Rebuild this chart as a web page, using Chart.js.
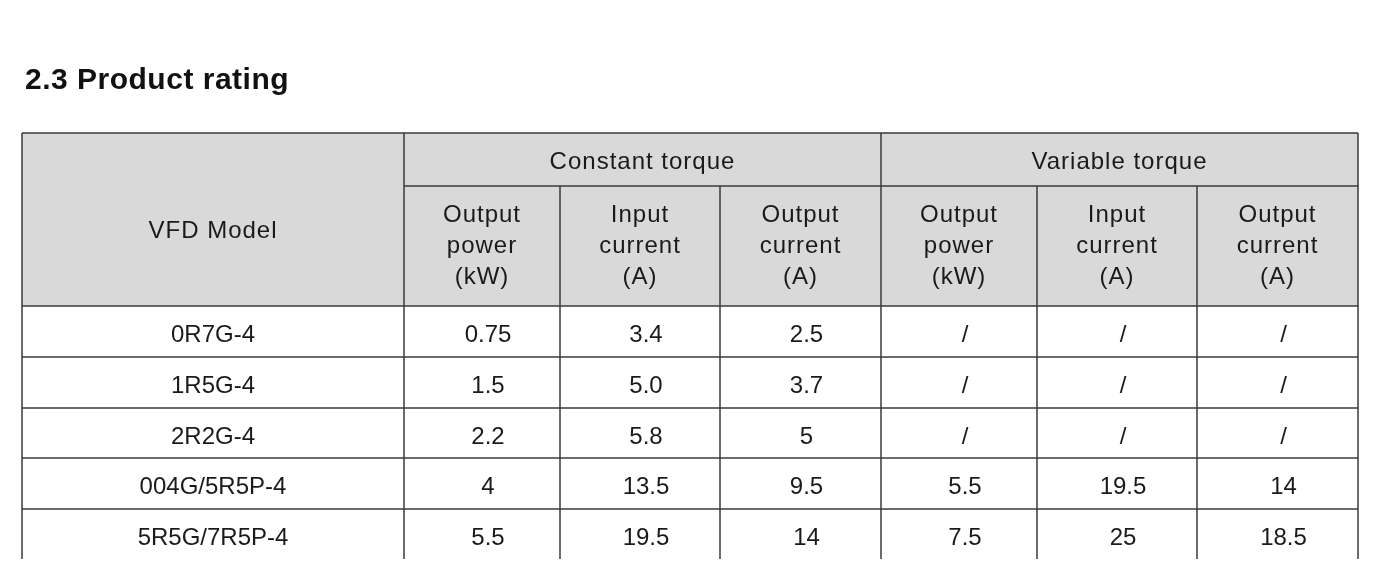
<!DOCTYPE html>
<html>
<head>
<meta charset="utf-8">
<script src="https://cdn.jsdelivr.net/npm/chart.js@4/dist/chart.umd.min.js"></script>
<style>
  html, body { margin: 0; padding: 0; background: #fff; }
  #wrap { width: 1378px; height: 561px; }
</style>
</head>
<body>
<div id="wrap"><canvas id="tbl" width="1378" height="561"></canvas></div>
<script>
const TITLE = '2.3 Product rating';
const groups = ['Constant torque', 'Variable torque'];
const subHeaders = [
    ['Output', 'power', '(kW)'],
    ['Input', 'current', '(A)'],
    ['Output', 'current', '(A)']
];
const models = ['0R7G-4', '1R5G-4', '2R2G-4', '004G/5R5P-4', '5R5G/7R5P-4'];
const ctPower = ['0.75', '1.5', '2.2', '4', '5.5'];
const ctInput = ['3.4', '5.0', '5.8', '13.5', '19.5'];
const ctOutput = ['2.5', '3.7', '5', '9.5', '14'];
const vtPower = ['/', '/', '/', '5.5', '7.5'];
const vtInput = ['/', '/', '/', '19.5', '25'];
const vtOutput = ['/', '/', '/', '14', '18.5'];

// table geometry in scale units
const colEdges = [0, 382, 538, 698, 859, 1015, 1175, 1336];
const rowEdges = [0, 53, 173, 224, 275, 325, 376, 426];

const FONT = "'Liberation Sans', Arial, sans-serif";
const LINE = '#3a3a3a';
const HEAD_BG = '#d9d9d9';

const tablePlugin = {
    id: 'tablePlugin',
    afterDraw(chart) {
        const { ctx } = chart;
        const xs = chart.scales.x, ys = chart.scales.y;
        const X = v => xs.getPixelForValue(v);
        const Y = v => ys.getPixelForValue(v);

        ctx.save();
        // title
        ctx.fillStyle = '#111';
        ctx.font = `bold 30px ${FONT}`;
        ctx.textBaseline = 'middle';
        ctx.textAlign = 'left';
        ctx.letterSpacing = '0.5px';
        ctx.fillText(TITLE, 25, 81);

        // header background
        ctx.fillStyle = HEAD_BG;
        ctx.fillRect(X(0), Y(0), X(colEdges[7]) - X(0), Y(rowEdges[2]) - Y(0));

        // lines
        ctx.strokeStyle = LINE;
        ctx.lineWidth = 1.5;
        const line = (x1, y1, x2, y2) => {
            ctx.beginPath();
            ctx.moveTo(X(x1), Y(y1));
            ctx.lineTo(X(x2), Y(y2));
            ctx.stroke();
        };
        line(0, 0, colEdges[7], 0);
        line(colEdges[1], rowEdges[1], colEdges[7], rowEdges[1]);
        for (let r = 2; r < rowEdges.length - 1; r++) line(0, rowEdges[r], colEdges[7], rowEdges[r]);
        line(0, 0, 0, rowEdges[7]);
        line(colEdges[7], 0, colEdges[7], rowEdges[7]);
        [1, 4].forEach(c => line(colEdges[c], 0, colEdges[c], rowEdges[7]));
        [2, 3, 5, 6].forEach(c => line(colEdges[c], rowEdges[1], colEdges[c], rowEdges[7]));

        // header text
        ctx.fillStyle = '#1a1a1a';
        ctx.textAlign = 'center';
        ctx.font = `24px ${FONT}`;
        ctx.letterSpacing = '1px';
        const midX = (a, b) => (X(colEdges[a]) + X(colEdges[b])) / 2;
        const midY = (a, b) => (Y(rowEdges[a]) + Y(rowEdges[b])) / 2;
        ctx.fillText('VFD Model', midX(0, 1), midY(0, 2) + 12);
        ctx.fillText(groups[0], midX(1, 4), midY(0, 1) + 3);
        ctx.fillText(groups[1], midX(4, 7), midY(0, 1) + 3);
        for (let g = 0; g < 2; g++) {
            subHeaders.forEach((lines, i) => {
                const c = 1 + g * 3 + i;
                lines.forEach((t, k) => {
                    ctx.fillText(t, midX(c, c + 1), midY(1, 2) + (k - 1) * 31);
                });
            });
        }

        // body
        ctx.letterSpacing = '0px';
        const cols = [models, ctPower, ctInput, ctOutput, vtPower, vtInput, vtOutput];
        models.forEach((_, r) => {
            cols.forEach((arr, c) => {
                ctx.fillText(arr[r], midX(c, c + 1) + (c > 0 ? 6 : 0), midY(r + 2, r + 3) + 4);
            });
        });
        ctx.restore();
    }
};

new Chart(document.getElementById('tbl'), {
    type: 'scatter',
    data: { datasets: [{ data: [] }] },
    options: {
        responsive: false,
        animation: false,
        devicePixelRatio: 1,
        layout: { padding: { left: 22, right: 20, top: 133, bottom: 2 } },
        plugins: { legend: { display: false }, tooltip: { enabled: false } },
        scales: {
            x: { type: 'linear', min: 0, max: colEdges[7], display: false },
            y: { type: 'linear', min: 0, max: rowEdges[7], reverse: true, display: false }
        }
    },
    plugins: [tablePlugin]
});
</script>
</body>
</html>
